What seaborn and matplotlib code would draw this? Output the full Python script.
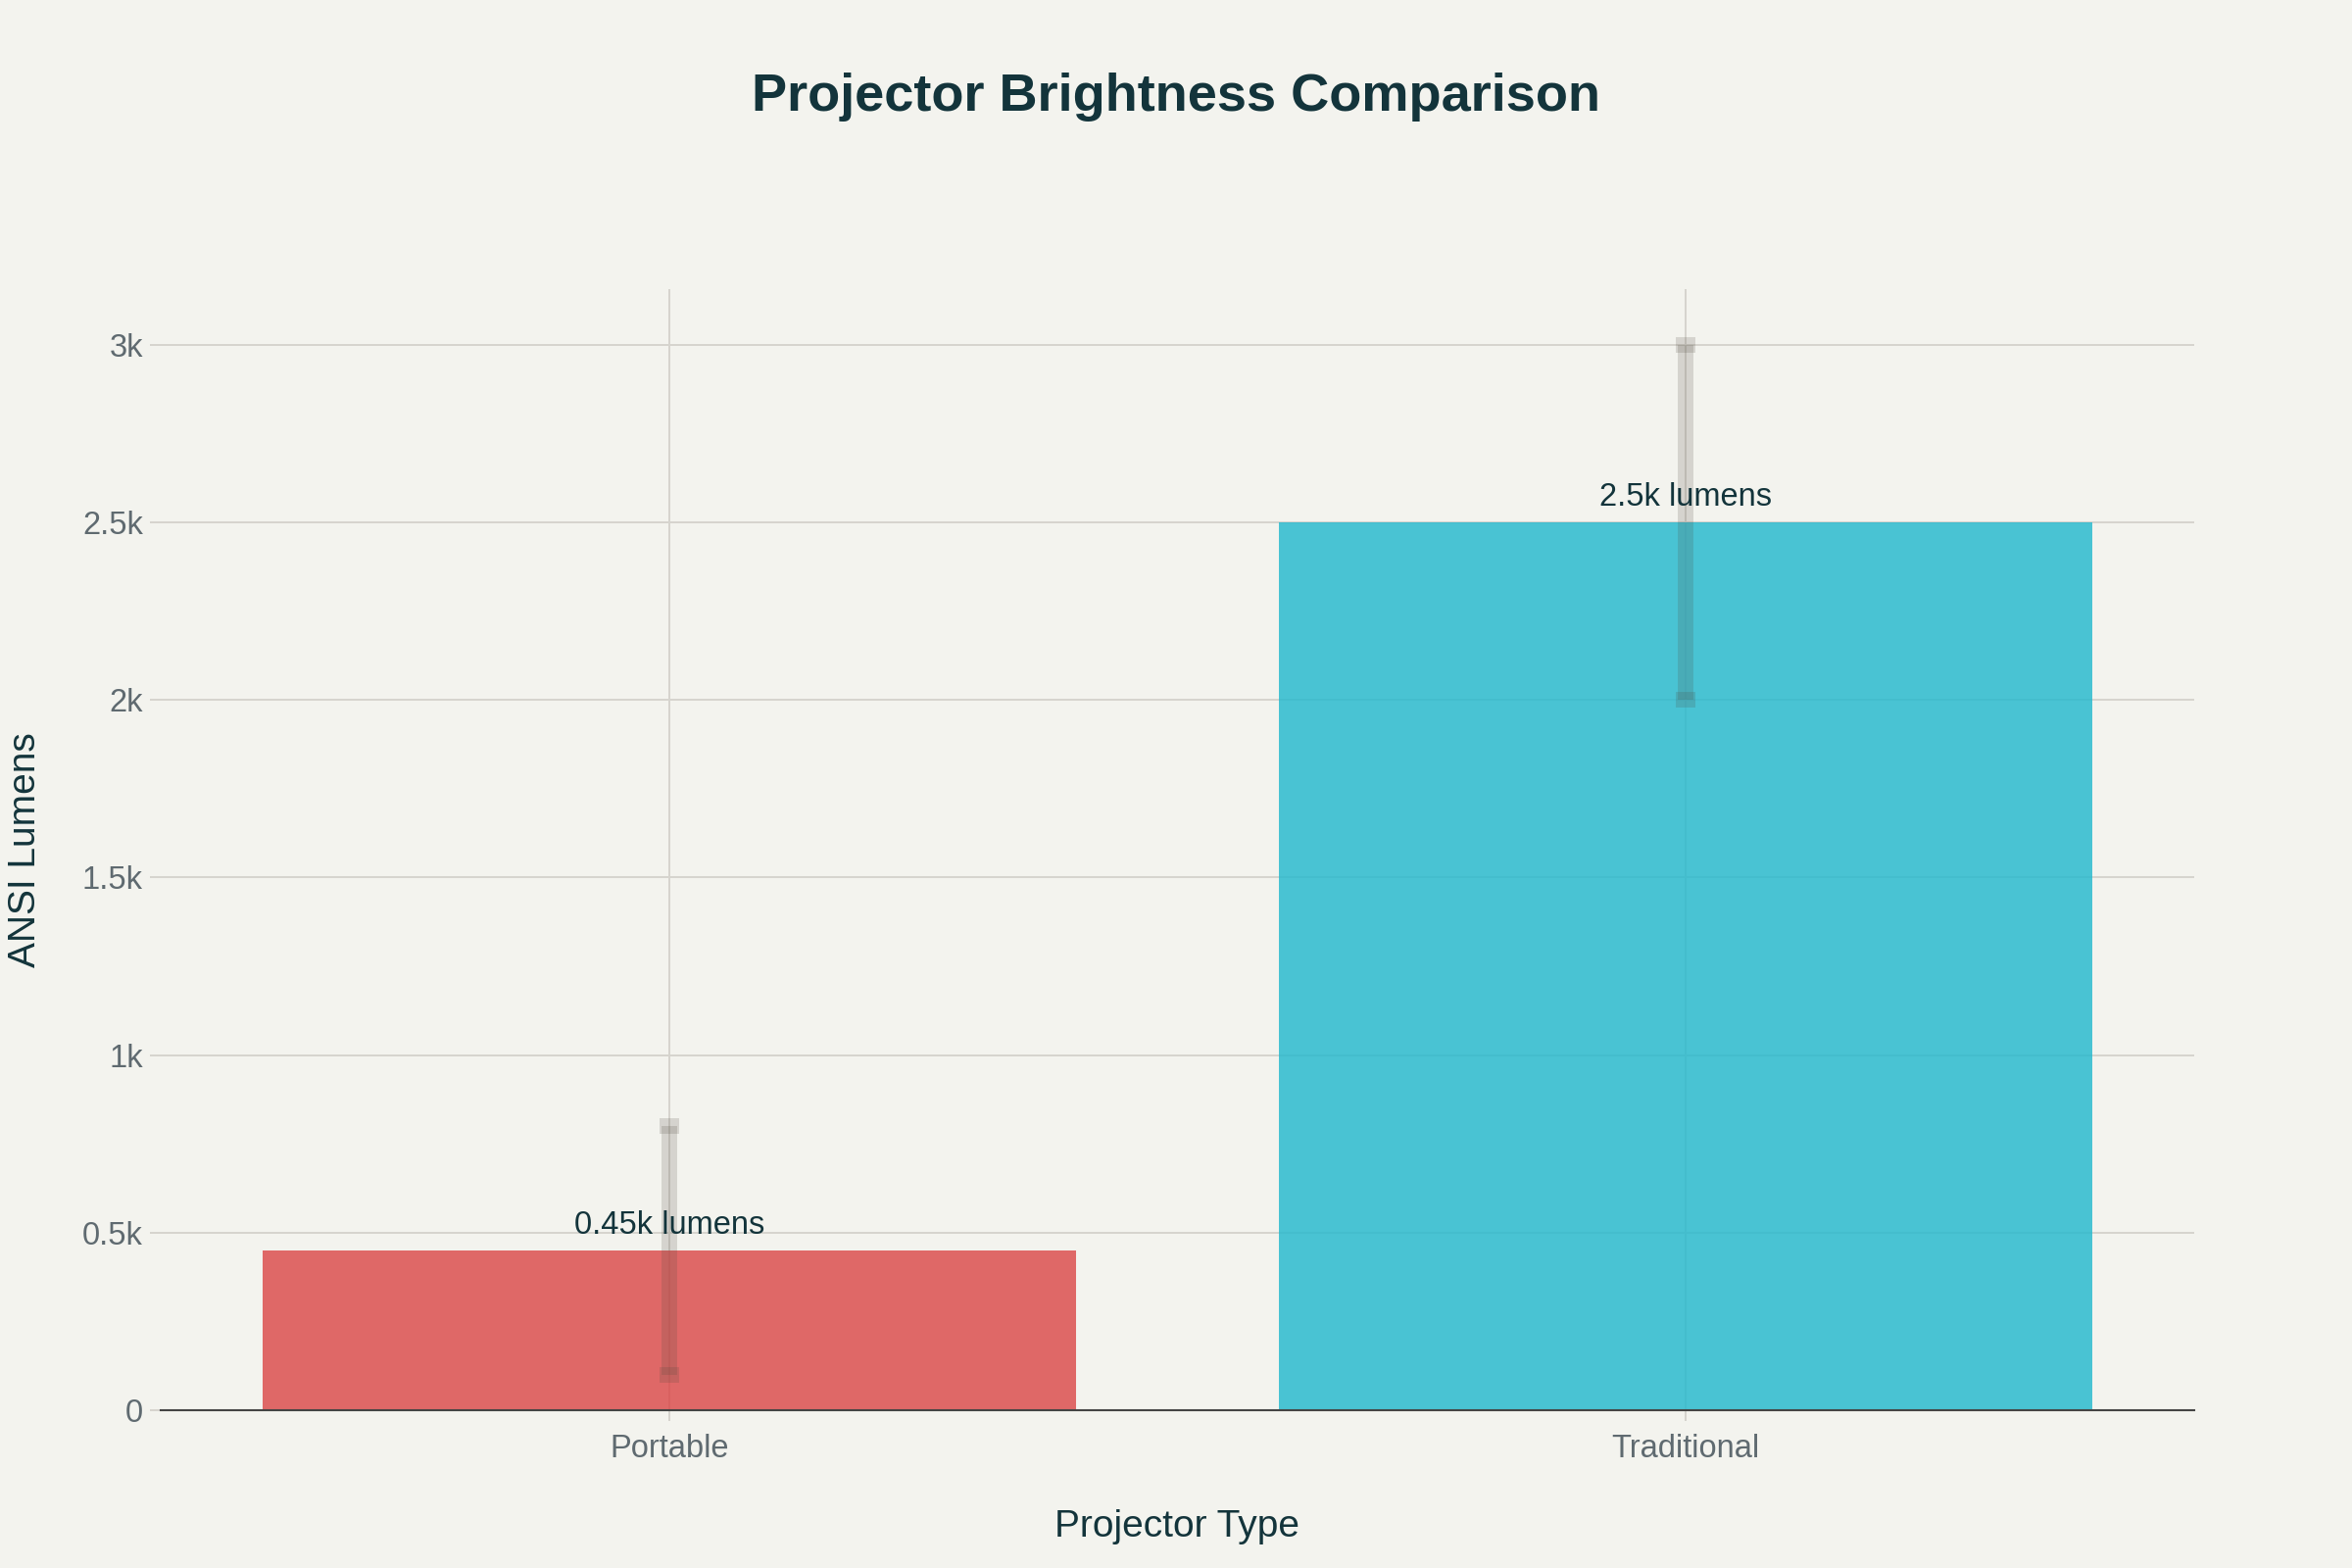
import matplotlib
matplotlib.use("Agg")
import matplotlib.pyplot as plt
import seaborn as sns
import numpy as np
import pandas as pd

# ---- data ----
categories = ["Portable", "Traditional"]
lumens = [450, 2500]
err_low = [100, 2000]
err_high = [800, 3000]
bar_labels = ["0.45k lumens", "2.5k lumens"]
bar_colors = ["#DB4545", "#1FB8CD"]
y_ticks = [0, 500, 1000, 1500, 2000, 2500, 3000]
y_tick_labels = ["0", "0.5k", "1k", "1.5k", "2k", "2.5k", "3k"]

BG = "#F3F3EE"
DARK = "#13343B"
TICKC = "#5F6A70"
GRID = "#D6D4CE"

sns.set_theme(style="white")
plt.rcParams["font.family"] = ["Liberation Sans", "DejaVu Sans"]

df = pd.DataFrame({"type": categories, "lumens": lumens})

fig = plt.figure(figsize=(24, 16), dpi=100, facecolor=BG)
ax = fig.add_axes([164 / 2400, 1 - 1439 / 1600, (2239 - 164) / 2400, (1439 - 295) / 1600])
ax.set_facecolor(BG)

sns.barplot(data=df, x="type", y="lumens", hue="type", palette=bar_colors,
            width=0.8, alpha=0.8, legend=False, ax=ax, zorder=2,
            saturation=1, linewidth=0)

# error bars
lum = np.array(lumens)
yerr = np.array([lum - np.array(err_low), np.array(err_high) - lum])
ax.errorbar(x=np.arange(len(categories)), y=lum, yerr=yerr, fmt="none",
            ecolor=(0.30, 0.28, 0.24), alpha=0.18, elinewidth=11.5,
            capsize=7.2, capthick=11.5, zorder=3)

# value labels
for i, (v, lab) in enumerate(zip(lumens, bar_labels)):
    ax.annotate(lab, xy=(i, v), xytext=(0, 7), textcoords="offset points",
                ha="center", va="bottom", fontsize=23.5, color=DARK, zorder=4)

ax.set_xlim(-0.5, len(categories) - 0.5)
ax.set_ylim(0, 3157)
ax.set_yticks(y_ticks)
ax.set_yticklabels(y_tick_labels)

ax.grid(True, axis="both", color=GRID, linewidth=1.4, zorder=0)
ax.set_axisbelow(True)

for s in ["top", "right", "left"]:
    ax.spines[s].set_visible(False)
ax.spines["bottom"].set_color("#444444")
ax.spines["bottom"].set_linewidth(1.5)
ax.spines["bottom"].set_zorder(5)

ax.tick_params(axis="both", which="major", labelsize=23.5, labelcolor=TICKC,
               color=GRID, length=8, width=1.4)
ax.tick_params(axis="y", pad=5, left=True)
ax.tick_params(axis="x", pad=9, bottom=True)

ax.set_xlabel("Projector Type", fontsize=28, color=DARK, va="center")
ax.xaxis.set_label_coords(0.5, -0.104)
ax.set_ylabel("ANSI Lumens", fontsize=28, color=DARK, va="center")
ax.yaxis.set_label_coords(-0.0665, 0.5)

fig.text(0.5, 1 - 99 / 1600, "Projector Brightness Comparison", ha="center",
         va="center", fontsize=39, fontweight="bold", color=DARK)

fig.savefig("out.png", dpi=100, facecolor=BG)
